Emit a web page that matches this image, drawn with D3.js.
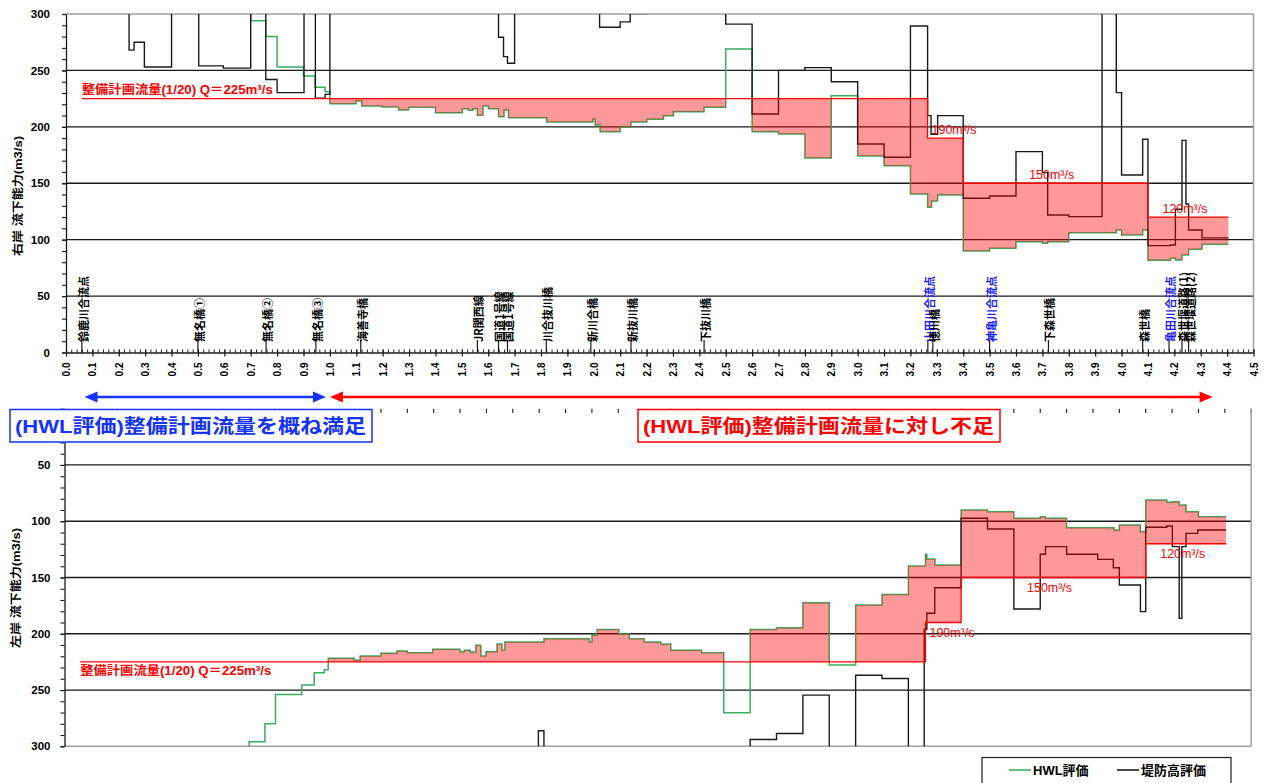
<!DOCTYPE html>
<html><head><meta charset="utf-8">
<script src="https://cdn.jsdelivr.net/npm/d3@7/dist/d3.min.js"></script>
<style>
body{margin:0;background:#fff;}
svg{display:block;font-family:"Liberation Sans","Noto Sans CJK JP",sans-serif;}
</style></head><body>
<svg id="chart" width="1273" height="783"></svg>
<script>
// ---- distance (km) ticks and discharge ticks ----
const kmTicks = d3.range(0, 46).map(i => i / 10);
const qMajor = [0, 50, 100, 150, 200, 250, 300];
const qGrid = [50, 100, 150, 200, 250];

// ---- planned design discharge (step function, km -> m3/s) ----
const planFlow = [[0.06, 225], [3.265, 190], [3.40, 150], [4.10, 120], [4.405, 120]];
const planTitle = "整備計画流量(1/20) Q＝225m³/s";
const planLabelKm = [3.28, 3.65, 4.155];
const planLabelText = ["190m³/s", "150m³/s", "120m³/s"];
const planLabelQ = [190, 150, 120];

// ---- right bank: HWL evaluation (values above 300 run off the chart) ----
const rightHWL = [[0.06, 330], [0.70, 294], [0.757, 280], [0.80, 253], [0.90, 245], [0.944, 235], [0.982, 231],
  [1.00, 220.5], [1.099, 223], [1.121, 218.5], [1.197, 217.5], [1.26, 215], [1.298, 217.3], [1.40, 212.5],
  [1.502, 216], [1.525, 214.6], [1.542, 216], [1.559, 210.2], [1.58, 218.5], [1.601, 216], [1.639, 209],
  [1.66, 215], [1.677, 208.1], [1.822, 204.3], [1.997, 207], [2.005, 201.7], [2.024, 195.7], [2.10, 199.6],
  [2.141, 204.3], [2.201, 206.7], [2.264, 209.9], [2.302, 213.4], [2.418, 217.3], [2.50, 269], [2.60, 195.7],
  [2.70, 193.7], [2.80, 172.4], [2.90, 227.6], [3.00, 174.2], [3.10, 165.6], [3.20, 140.5], [3.265, 128.7],
  [3.28, 134.3], [3.303, 139.6], [3.40, 90], [3.50, 92.3], [3.60, 98.2], [3.70, 96.8], [3.72, 98.2],
  [3.80, 106.2], [3.98, 108.6], [4.00, 104.1], [4.08, 108.6], [4.10, 81.7], [4.185, 83.5], [4.204, 82],
  [4.229, 86.4], [4.254, 91.5], [4.305, 95.9], [4.405, 95.9]];

// ---- right bank: levee-height evaluation ----
const rightLevee = [[0.06, 330], [0.239, 268], [0.258, 275], [0.297, 253], [0.40, 330], [0.503, 254],
  [0.596, 252], [0.70, 330], [0.757, 242], [0.80, 230.3], [0.902, 330], [0.945, 225.3], [0.982, 228.8],
  [1.00, 330], [1.639, 279.4], [1.658, 262.2], [1.673, 256.3], [1.70, 330], [2.022, 288.2], [2.10, 293],
  [2.138, 300.5], [2.201, 330], [2.50, 291], [2.60, 211.4], [2.70, 250], [2.80, 252.5], [2.90, 240],
  [3.00, 184.8], [3.10, 173], [3.20, 289.4], [3.265, 209.9], [3.278, 193.4], [3.303, 209.9], [3.40, 136.7],
  [3.50, 138.7], [3.60, 178], [3.70, 159.4], [3.72, 121.9], [3.80, 120.4], [3.926, 330], [3.98, 230.3],
  [4.00, 157.3], [4.08, 189], [4.10, 94.7], [4.185, 95.3], [4.204, 127], [4.229, 188], [4.244, 131.6],
  [4.254, 108.6], [4.305, 101.6], [4.405, 101.6]];

// ---- left bank: HWL evaluation ----
const leftHWL = [[0.06, 330], [0.70, 296], [0.76, 280], [0.80, 254], [0.90, 245.6], [0.947, 234.6], [0.985, 232],
  [1.00, 221.8], [1.099, 223.6], [1.121, 219.8], [1.20, 217.4], [1.26, 215.3], [1.30, 216.8], [1.396, 213.8],
  [1.50, 215.9], [1.516, 214.7], [1.538, 216.2], [1.56, 210.3], [1.579, 219.8], [1.598, 215.9], [1.64, 209.1],
  [1.659, 214.4], [1.67, 207.3], [1.818, 204.4], [1.99, 207.3], [2.00, 201.4], [2.02, 196.1], [2.102, 200.2],
  [2.142, 204.4], [2.198, 207.3], [2.261, 209.1], [2.299, 214.7], [2.416, 216.8], [2.50, 270.2], [2.60, 196.1],
  [2.70, 194.6], [2.80, 172.4], [2.90, 227.8], [3.00, 174.5], [3.10, 165], [3.20, 139.8], [3.265, 129.4],
  [3.27, 133.6], [3.301, 138.9], [3.40, 90], [3.50, 91.5], [3.60, 97.4], [3.70, 96], [3.72, 97.4],
  [3.80, 105.7], [3.98, 107.8], [4.00, 103.4], [4.08, 109.3], [4.10, 81.1], [4.18, 83.2], [4.202, 82.6],
  [4.227, 85.6], [4.253, 91.5], [4.30, 96], [4.405, 96]];

// ---- left bank: levee-height evaluation ----
const leftLevee = [[0.06, 330], [1.797, 286.2], [1.818, 330], [2.60, 293.9], [2.70, 288.6], [2.80, 254.5],
  [2.90, 330], [3.00, 236.8], [3.10, 239.8], [3.20, 330], [3.26, 196], [3.27, 181.8], [3.30, 159.1],
  [3.40, 97.4], [3.50, 106.9], [3.60, 178], [3.70, 129.4], [3.72, 122.6], [3.80, 129.4], [3.918, 133.9],
  [3.977, 141.3], [4.00, 156.7], [4.08, 180.3], [4.10, 105.4], [4.18, 104.3], [4.201, 122.6], [4.227, 186.3],
  [4.237, 122.6], [4.253, 110.8], [4.297, 107.8], [4.405, 107.8]];

// ---- structures / confluences along the river (km) ----
const stationKm = [0.06, 0.50, 0.758, 0.947, 1.117, 1.559, 1.639, 1.673, 1.82, 1.989, 2.141, 2.418,
  3.266, 3.285, 3.50, 3.723, 4.08, 4.18, 4.229, 4.254];
const stationName = ["鈴鹿川合流点", "無名橋①", "無名橋②", "無名橋③", "海善寺橋", "JR関西線", "国道1号線",
  "国道1号線", "川合抜川橋", "新川合橋", "新抜川橋", "下抜川橋", "山田川合流点", "徳川橋", "神亀川合流点",
  "下森世橋", "森世橋", "亀田川合流点", "森世堰道路(1)", "森世堰道路(2)"];
const tributaryConfluences = ["山田川合流点", "神亀川合流点", "亀田川合流点"];

// ---- evaluated reaches ----
const satisfiedReach = [0.07, 0.985];
const deficientReach = [1.0, 4.345];
const satisfiedText = "(HWL評価)整備計画流量を概ね満足";
const deficientText = "(HWL評価)整備計画流量に対し不足";
const seriesNames = ["HWL評価", "堤防高評価"];

// ---------------------------------------------------------------
const svg = d3.select("#chart");
const GREEN = "#3aad5e", BLACK = "#1a1a1a", RED = "#ff0000", BLUE = "#1533ff", BORDER = "#a0a0a0";

const stepLine = (x, y) => d3.line().curve(d3.curveStepAfter).x(d => x(d[0])).y(d => y(d[1]));

function stepAt(series, k) {
  let v = series[0][1];
  for (const [km, q] of series) { if (km <= k + 1e-9) v = q; else break; }
  return v;
}
function deficit(hwl) {
  const lo = planFlow[0][0], hi = planFlow[planFlow.length - 1][0];
  const ks = Array.from(new Set([...planFlow.map(d => d[0]), ...hwl.map(d => d[0])]))
    .filter(k => k >= lo && k <= hi).sort((a, b) => a - b);
  return ks.map(k => ({ k, p: stepAt(planFlow, k), h: stepAt(hwl, k) }));
}

function panel(cfg) {
  const { x, y, hwl, levee, id, reversed } = cfg;
  const [x0, x1] = x.range();
  const [yA, yB] = y.range();
  const yTopPx = Math.min(yA, yB), yBotPx = Math.max(yA, yB);
  const g = svg.append("g");

  g.append("clipPath").attr("id", id).append("rect")
    .attr("x", x0).attr("y", yTopPx).attr("width", x1 - x0).attr("height", yBotPx - yTopPx);

  // gridlines
  g.append("g").selectAll("line").data(qGrid).join("line")
    .attr("x1", x0).attr("x2", x1).attr("y1", d => y(d)).attr("y2", d => y(d))
    .attr("stroke", BLACK).attr("stroke-width", 1.3);

  // outer frame (grey)
  g.append("line").attr("x1", x0).attr("x2", x1).attr("y1", y(300)).attr("y2", y(300))
    .attr("stroke", BORDER).attr("stroke-width", 1.5);
  g.append("line").attr("x1", x1).attr("x2", x1).attr("y1", yTopPx).attr("y2", yBotPx)
    .attr("stroke", BORDER).attr("stroke-width", 1.5);

  // data
  const plot = g.append("g").attr("clip-path", `url(#${id})`);
  plot.append("path").datum(hwl).attr("d", stepLine(x, y)).attr("fill", "none")
    .attr("stroke", GREEN).attr("stroke-width", 1.5);
  plot.append("path").datum(levee).attr("d", stepLine(x, y)).attr("fill", "none")
    .attr("stroke", BLACK).attr("stroke-width", 1.4);
  plot.append("path").datum(deficit(hwl))
    .attr("d", d3.area().curve(d3.curveStepAfter).x(d => x(d.k)).y0(d => y(d.p)).y1(d => y(Math.min(d.p, d.h))))
    .attr("fill", "rgba(255,0,0,0.4)");
  plot.append("path").datum(planFlow).attr("d", stepLine(x, y)).attr("fill", "none")
    .attr("stroke", RED).attr("stroke-width", 1.3);

  // y axis: major + minor ticks
  const yAxis = g.append("g").attr("transform", `translate(${x0},0)`)
    .call(d3.axisLeft(y).tickValues(reversed ? qMajor.slice(1) : qMajor).tickSize(4).tickPadding(reversed ? 10 : 12).tickSizeOuter(0));
  yAxis.select(".domain").attr("stroke", BLACK).attr("stroke-width", 1.3);
  yAxis.selectAll(".tick line").attr("stroke", BLACK).attr("stroke-width", 1.2);
  yAxis.selectAll("text").attr("font-size", 11.5).attr("font-weight", "bold").attr("fill", "#000");
  g.append("g").attr("transform", `translate(${x0},0)`)
    .call(d3.axisLeft(y).tickValues(d3.range(0, 301, 10)).tickSize(4).tickFormat(""))
    .call(a => a.select(".domain").remove())
    .selectAll("line").attr("stroke", BLACK).attr("stroke-width", 1.1);

  // axis title
  g.append("text").attr("transform", `translate(${cfg.titleX},${cfg.titleY}) rotate(-90)`)
    .attr("text-anchor", "middle").attr("dy", "0.35em")
    .attr("font-size", 11).attr("font-weight", "bold").attr("fill", "#000")
    .attr("textLength", 120).attr("lengthAdjust", "spacingAndGlyphs").text(cfg.title);

  // planned discharge labels
  const lab = g.append("g").attr("fill", RED);
  const off = reversed ? 14 : -3;
  lab.append("text").attr("x", x(planFlow[0][0])).attr("y", y(planFlow[0][1]) + off + (reversed ? -1 : -2))
    .attr("font-size", 12).attr("font-weight", "bold")
    .attr("textLength", 191).attr("lengthAdjust", "spacingAndGlyphs").text(planTitle);
  lab.selectAll("text.q").data(planLabelText).join("text").attr("class", "q")
    .attr("x", (d, i) => x(planLabelKm[i])).attr("y", (d, i) => y(planLabelQ[i]) + off + (reversed ? 0 : -1))
    .attr("font-size", 12).attr("textLength", 45).attr("lengthAdjust", "spacingAndGlyphs").text(d => d);
  return g;
}

// ---------- right bank (upper) ----------
const xTop = d3.scaleLinear([0, 4.5], [66, 1253.5]);
const yTop = d3.scaleLinear([0, 300], [352.5, 14]);
panel({ x: xTop, y: yTop, hwl: rightHWL, levee: rightLevee, id: "clipTop", reversed: false,
  title: "右岸 流下能力(m3/s)", titleX: 18, titleY: 196 });

// station markers
const st = svg.append("g");
stationKm.forEach((km, i) => {
  const px = xTop(km);
  st.append("line").attr("x1", px).attr("x2", px).attr("y1", 352.5).attr("y2", 340)
    .attr("stroke", BLACK).attr("stroke-width", 1.2);
  st.append("text").attr("transform", `translate(${px + 2},342) rotate(-90)`)
    .attr("dy", "0.36em").attr("font-size", 11).attr("font-weight", "bold")
    .attr("font-family", "'Noto Sans CJK JP',sans-serif")
    .attr("fill", tributaryConfluences.includes(stationName[i]) ? "#1a1aff" : "#000")
    .text(stationName[i]);
});

// x axis (km)
const xAxis = svg.append("g").attr("transform", "translate(0,352.5)")
  .call(d3.axisBottom(xTop).tickValues(kmTicks).tickSize(4).tickSizeOuter(0).tickFormat(d3.format(".1f")));
xAxis.select(".domain").attr("stroke", BLACK).attr("stroke-width", 1.4);
xAxis.selectAll(".tick line").attr("stroke", BLACK).attr("stroke-width", 1.2).attr("y1", -3);
xAxis.selectAll("text").attr("transform", "rotate(-90)").attr("x", -10).attr("y", 0).attr("dy", "0.35em")
  .attr("text-anchor", "end").attr("font-size", 10).attr("font-weight", "bold").attr("fill", "#000");
svg.append("g").attr("transform", "translate(0,352.5)")
  .call(d3.axisTop(xTop).tickValues(d3.range(0, 226).map(i => i / 50)).tickSize(3).tickFormat(""))
  .call(a => a.select(".domain").remove())
  .selectAll("line").attr("stroke", BLACK).attr("stroke-width", 1);

// ---------- left bank (lower, reversed) ----------
const xBot = d3.scaleLinear([0, 4.5], [64.5, 1251.2]);
const yBot = d3.scaleLinear([0, 300], [408.7, 746.3]);
svg.append("g").selectAll("line").data(kmTicks).join("line")
  .attr("x1", d => xBot(d)).attr("x2", d => xBot(d)).attr("y1", 408.7).attr("y2", 413)
  .attr("stroke", BLACK).attr("stroke-width", 1.1);
panel({ x: xBot, y: yBot, hwl: leftHWL, levee: leftLevee, id: "clipBot", reversed: true,
  title: "左岸 流下能力(m3/s)", titleX: 16.5, titleY: 588 });

// ---------- reach arrows and boxes ----------
function arrow(x1, x2, yy, color) {
  const g = svg.append("g");
  g.append("line").attr("x1", x1 + 8).attr("x2", x2 - 8).attr("y1", yy).attr("y2", yy)
    .attr("stroke", color).attr("stroke-width", 2.6);
  g.append("path").attr("d", `M${x1},${yy}L${x1 + 13},${yy - 5.5}L${x1 + 13},${yy + 5.5}Z`).attr("fill", color);
  g.append("path").attr("d", `M${x2},${yy}L${x2 - 13},${yy - 5.5}L${x2 - 13},${yy + 5.5}Z`).attr("fill", color);
}
arrow(xTop(satisfiedReach[0]), xTop(satisfiedReach[1]), 397, BLUE);
arrow(xTop(deficientReach[0]), xTop(deficientReach[1]), 397, RED);

function box(bx, text, color) {
  const g = svg.append("g");
  g.append("rect").attr("x", bx).attr("y", 409.5).attr("width", 362).attr("height", 32.5)
    .attr("fill", "#fff").attr("stroke", color).attr("stroke-width", 1.5);
  g.append("text").attr("x", bx + 5).attr("y", 433).attr("fill", color)
    .attr("font-size", 19).attr("font-weight", "bold")
    .attr("textLength", 351).attr("lengthAdjust", "spacingAndGlyphs").text(text);
}
box(10, satisfiedText, BLUE);
box(638, deficientText, RED);

// ---------- legend ----------
const lg = svg.append("g");
lg.append("rect").attr("x", 982).attr("y", 757.5).attr("width", 249).attr("height", 32)
  .attr("fill", "#fff").attr("stroke", BLACK).attr("stroke-width", 1.2);
[[GREEN, 1009, 1033], [BLACK, 1117, 1141]].forEach(([c, lx, tx], i) => {
  lg.append("line").attr("x1", lx).attr("x2", lx + 22).attr("y1", 770).attr("y2", 770)
    .attr("stroke", c).attr("stroke-width", 1.6);
  lg.append("text").attr("x", tx).attr("y", 775).attr("font-size", 13).attr("font-weight", "bold")
    .attr("fill", "#000").text(seriesNames[i]);
});
</script>
</body></html>
